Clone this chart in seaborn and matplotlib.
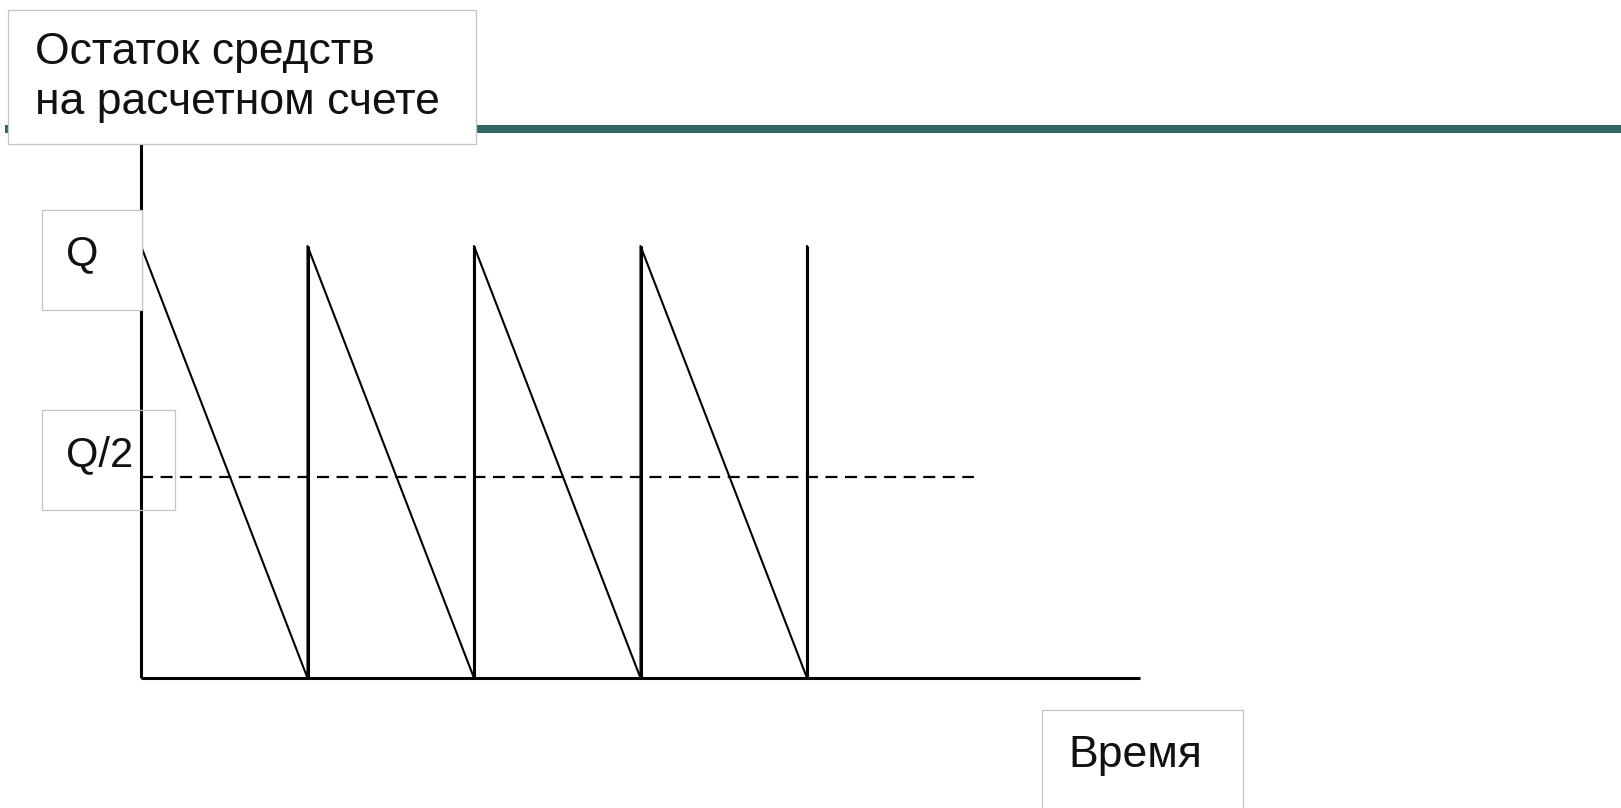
import matplotlib
matplotlib.use("Agg")
import matplotlib.pyplot as plt
import matplotlib.patches as patches
import seaborn as sns
import pandas as pd

# Balance on the current account: sawtooth cash model
cycle_time = [0, 1, 1, 2, 2, 3, 3, 4, 4]
balance = [1.0, 0.0, 1.0, 0.0, 1.0, 0.0, 1.0, 0.0, 1.0]
refill_time = [1, 2, 3, 4]
Q = 1.0
avg_level = 0.465
avg_end = 5.0
time_axis_end = 6.0
balance_axis_top = 1.27

y_label = ["Остаток средств", "на расчетном счете"]
x_label = "Время"
q_label = "Q"
q_half_label = "Q/2"

W, H = 1621, 808
# layout: pixel position of the origin and size of one unit
X0, UX = 141, 166.5
Y0, UY = 678, 432

sns.set_theme(style="white")
plt.rcParams["font.family"] = ["Liberation Sans", "DejaVu Sans"]

fig = plt.figure(figsize=(W / 100, H / 100), dpi=100)
ax = fig.add_axes([0, 0, 1, 1])
ax.set_xlim(-X0 / UX, (W - X0) / UX)
ax.set_ylim((Y0 - H) / UY, Y0 / UY)
ax.axis("off")

df = pd.DataFrame({"time": cycle_time, "balance": balance})
sns.lineplot(data=df, x="time", y="balance", sort=False, estimator=None,
             color="black", lw=1.5, ax=ax, zorder=3)
ax.vlines(refill_time, 0, Q, color="black", lw=2.2, zorder=3)

# axes lines
ax.plot([0, time_axis_end], [0, 0], color="black", lw=2.2, zorder=3,
        solid_capstyle="butt")
ax.plot([0, 0], [0, balance_axis_top], color="black", lw=2.2, zorder=3,
        solid_capstyle="butt")

# average balance
ax.plot([0, avg_end], [avg_level, avg_level], color="black", lw=1.6,
        linestyle=(0, (5.4, 3.4)), zorder=3)


def fx(x):
    return x / W


def fy(y):
    return 1 - y / H


# teal rule at top
fig.add_artist(plt.Line2D([fx(5), fx(W)], [fy(129), fy(129)],
                          color="#336666", lw=5.8, zorder=1,
                          solid_capstyle="butt"))


def box(x0, y0, x1, y1, z, fill="white"):
    r = patches.Rectangle((fx(x0), fy(y1)), fx(x1) - fx(x0), fy(y0) - fy(y1),
                          transform=fig.transFigure, facecolor=fill,
                          edgecolor="#c4c4c4", lw=0.9, zorder=z)
    fig.add_artist(r)


box(8, 10, 476, 144, 5)
box(42, 210, 142, 310, 5)
box(42, 410, 175, 510, 5, fill="none")
box(1042, 710, 1243, 830, 5)

fig.text(fx(35), fy(64), y_label[0], fontsize=32, va="baseline", ha="left",
         color="#111111", zorder=6)
fig.text(fx(35), fy(114), y_label[1], fontsize=32, va="baseline", ha="left",
         color="#111111", zorder=6)
fig.text(fx(66), fy(265), q_label, fontsize=30, va="baseline", ha="left",
         color="#111111", zorder=6)
fig.text(fx(66), fy(466), q_half_label, fontsize=30, va="baseline", ha="left",
         color="#111111", zorder=6)
fig.text(fx(1068), fy(767), x_label, fontsize=32, va="baseline", ha="left",
         color="#111111", zorder=6)

fig.savefig("out.png", dpi=100, facecolor="white")
